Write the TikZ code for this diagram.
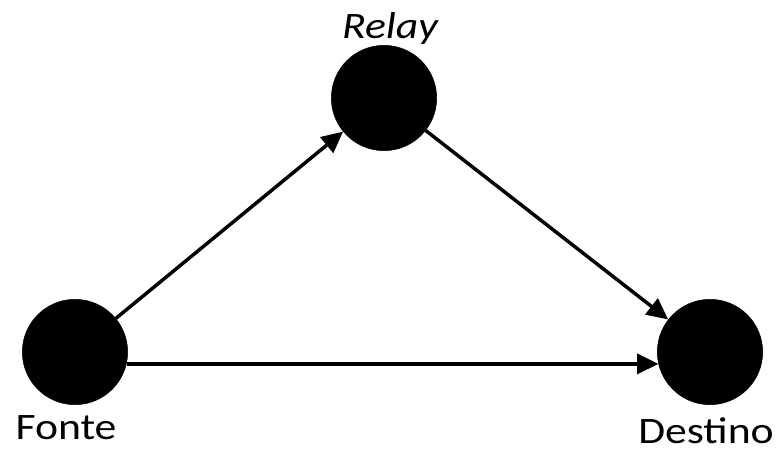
\documentclass[tikz,border=0pt]{standalone}
\usepackage{fontspec}
\setmainfont{Carlito}
\usetikzlibrary{arrows.meta}

\begin{document}
\begin{tikzpicture}[x=0.75pt, y=-0.75pt,
       station/.style = {circle, fill=black, draw=black, minimum size=79pt,
                         inner sep=0pt, node contents={}},
       stationname/.style = {anchor=base, font=\fontsize{28}{30}\selectfont,
                             inner sep=0pt, xscale=1.17, transform shape},
every edge/.style = {draw, line width=2.6pt,
                     -{Triangle[length=16pt, width=15pt]}}
                        ]
    % keep the page the size of the reference
    \useasboundingbox (0,0) rectangle (780,450);

    % the three stations
    \node (fonte)   at (75, 352)  [station];
    \node (relay)   at (384, 98)  [station];
    \node (destino) at (710, 352) [station];

    % their names
    \node[stationname] (fontetxt)   at (66, 439)  {Fonte};
    \node[stationname] (relaytxt)   at (390, 38)  {\itshape Relay};
    \node[stationname] (destinotxt) at (706, 443) {Destino};

    \path (fonte) edge (relay);
    \path (relay) edge (destino);
    \path (fonte.-13) edge (destino.-167);

\end{tikzpicture}
\end{document}
